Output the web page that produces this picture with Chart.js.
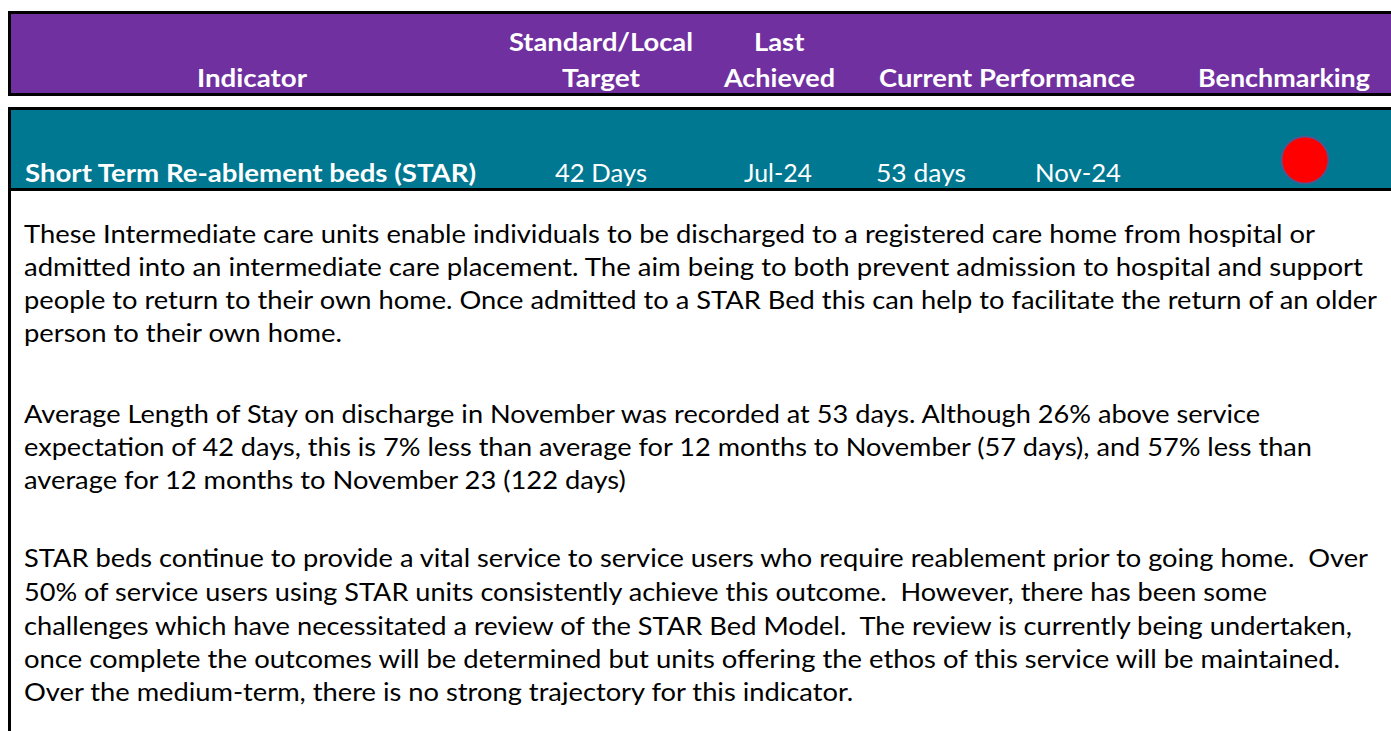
<!DOCTYPE html>
<html>
<head>
<meta charset="utf-8">
<script src="https://cdn.jsdelivr.net/npm/chart.js@4.4.1/dist/chart.umd.min.js"></script>
<style>
  html,body{margin:0;padding:0;background:#fff;width:1391px;height:731px;overflow:hidden;position:relative;}
  .box{position:absolute;box-sizing:border-box;}
  .t{position:absolute;white-space:pre;display:inline-block;line-height:34px;height:34px;transform-origin:0 50%;font-family:Lato,"Open Sans",sans-serif;}
  .hd{font-weight:700;color:#fff;font-size:25.5px;}
  .rw{color:#fff;font-size:25px;}
  .rwb{color:#fff;font-size:25.5px;font-weight:700;}
  .bd{color:#000;font-size:25px;}
  #bench{position:absolute;left:1255px;top:110px;width:100px;height:100px;}
</style>
</head>
<body>
<div class="box" style="left:8px;top:11px;width:1400px;height:85px;background:#7030A0;border:3px solid #000;border-right:none;"></div>
<div class="box" style="left:8px;top:107px;width:1400px;height:84px;background:#007892;border:3px solid #000;border-right:none;"></div>
<div class="box" style="left:8px;top:191px;width:3px;height:540px;background:#000;"></div>
<div id="bench"><canvas id="c" width="100" height="100"></canvas></div>
<script>
// ---- data ----
const headerLine1 = ['', 'Standard/Local', 'Last', '', ''];
const headerLine2 = ['Indicator', 'Target', 'Achieved', 'Current Performance', 'Benchmarking'];
const indicatorName = 'Short Term Re-ablement beds (STAR)';
const rowValues = ['42 Days', 'Jul-24', '53 days', 'Nov-24'];
const benchmarkStatus = ['red'];
const benchmarkValue = [{x: 0, y: 0}];
const para1 = [
  'These Intermediate care units enable individuals to be discharged to a registered care home from hospital or',
  'admitted into an intermediate care placement. The aim being to both prevent admission to hospital and support',
  'people to return to their own home. Once admitted to a STAR Bed this can help to facilitate the return of an older',
  'person to their own home.'
];
const para2 = [
  'Average Length of Stay on discharge in November was recorded at 53 days. Although 26% above service',
  'expectation of 42 days, this is 7% less than average for 12 months to November (57 days), and 57% less than',
  'average for 12 months to November 23 (122 days)'
];
const para3 = [
  'STAR beds continue to provide a vital service to service users who require reablement prior to going home.  Over',
  '50% of service users using STAR units consistently achieve this outcome.  However, there has been some',
  'challenges which have necessitated a review of the STAR Bed Model.  The review is currently being undertaken,',
  'once complete the outcomes will be determined but units offering the ethos of this service will be maintained.',
  'Over the medium-term, there is no strong trajectory for this indicator.'
];

// ---- layout (positions only) ----
const hdrL1Pos = [null, [509, 693], null, null, null];
const hdrL1Center = [null, null, 779, null, null];
const hdrL2Pos = [[197, 307], [562, 640], [724, 835], [879, 1135], [1198, 1370]];
const hdrY = [41, 77];
const rowPos = [[555, 647], [744, 812], [876, 966], [1035, 1121]];
const indPos = [25, 476];
const rowY = 172;
const p1R = [1315, 1363, 1377, 342];
const p2R = [1260, 1312, null];
const p3R = [1368, 1267, 1352, 1340, null];
const p1Y = [233, 266, 299, 332];
const p2Y = [413, 446, 479];
const p3Y = [557, 591, 625, 658, 691];
const bodyLeft = 24;

function put(text, cls, left, right, cy) {
  const d = document.createElement('div');
  d.className = 't ' + cls;
  d.textContent = text;
  d.style.left = left + 'px';
  d.style.top = (cy - 17) + 'px';
  document.body.appendChild(d);
  const w = d.getBoundingClientRect().width;
  return {d, w, left, right};
}
function fit(o, s) {
  const sc = s != null ? s : (o.right - o.left) / o.w;
  o.d.style.transform = 'scaleX(' + sc + ')';
  return sc;
}

function build() {
  const hs = [];
  headerLine2.forEach((t, i) => hs.push(fit(put(t, 'hd', hdrL2Pos[i][0], hdrL2Pos[i][1], hdrY[1]))));
  const hAvg = hs.reduce((a, b) => a + b, 0) / hs.length;
  headerLine1.forEach((t, i) => {
    if (!t) return;
    if (hdrL1Pos[i]) { fit(put(t, 'hd', hdrL1Pos[i][0], hdrL1Pos[i][1], hdrY[0])); }
    else {
      const o = put(t, 'hd', 0, null, hdrY[0]);
      const w = o.w * hAvg;
      o.d.style.left = (hdrL1Center[i] - w / 2) + 'px';
      fit(o, hAvg);
    }
  });
  fit(put(indicatorName, 'rwb', indPos[0], indPos[1], rowY));
  rowValues.forEach((t, i) => fit(put(t, 'rw', rowPos[i][0], rowPos[i][1], rowY)));
  const items = [];
  para1.forEach((t, i) => items.push([put(t, 'bd', bodyLeft, p1R[i], p1Y[i]), p1R[i]]));
  para2.forEach((t, i) => items.push([put(t, 'bd', bodyLeft, p2R[i], p2Y[i]), p2R[i]]));
  para3.forEach((t, i) => items.push([put(t, 'bd', bodyLeft, p3R[i], p3Y[i]), p3R[i]]));
  const scales = [];
  items.forEach(([o, r]) => { if (r != null) scales.push(fit(o)); });
  const avg = scales.reduce((a, b) => a + b, 0) / scales.length;
  items.forEach(([o, r]) => { if (r == null) fit(o, avg); });
}

new Chart(document.getElementById('c'), {
  type: 'scatter',
  data: { datasets: [{
    data: benchmarkValue,
    backgroundColor: benchmarkStatus.map(s => s === 'red' ? '#FF0000' : '#00B050'),
    borderColor: 'rgba(70,90,150,0.85)',
    borderWidth: 2,
    pointRadius: 23.5,
    pointHoverRadius: 23.5,
    clip: false
  }]},
  options: {
    responsive: false, animation: false,
    layout: { padding: 0, autoPadding: false },
    plugins: { legend: { display: false }, tooltip: { enabled: false } },
    scales: {
      x: { display: false, min: -1, max: 1 },
      y: { display: false, min: -1, max: 1 }
    }
  }
});

if (document.fonts && document.fonts.ready) {
  document.fonts.load('25px Lato').then(() => document.fonts.load('bold 25px Lato')).then(build, build);
} else build();
</script>
</body>
</html>
